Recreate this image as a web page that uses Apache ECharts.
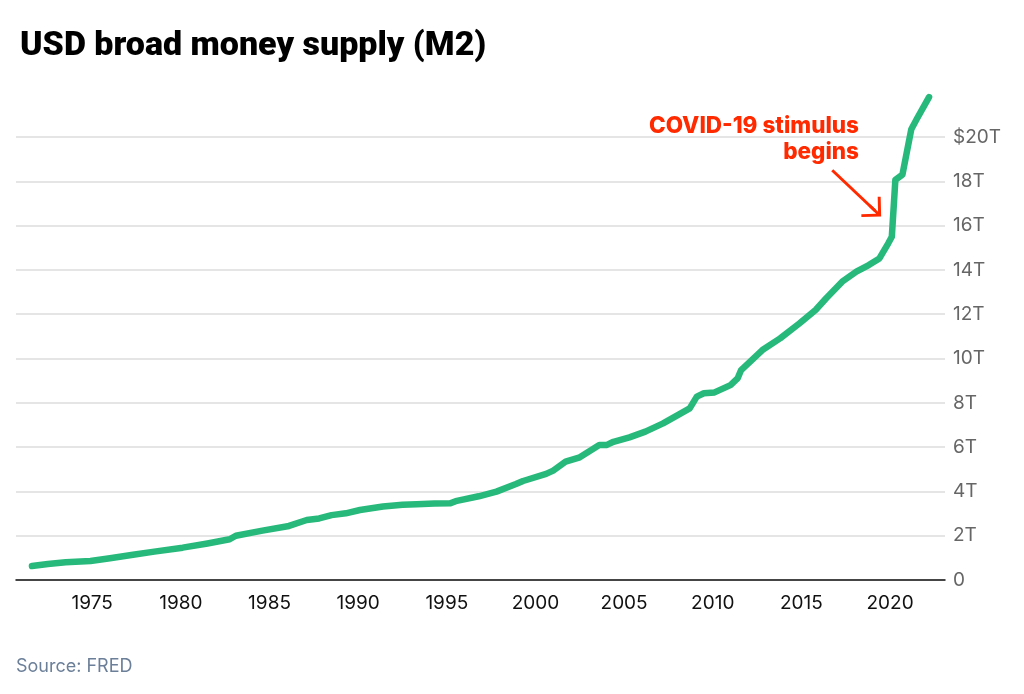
<!DOCTYPE html>
<html>
<head>
<meta charset="utf-8">
<script src="https://cdn.jsdelivr.net/npm/echarts@6/dist/echarts.min.js"></script>
<style>
  html, body { margin: 0; padding: 0; background: #fff; }
  #chart { width: 1024px; height: 694px; }
</style>
</head>
<body>
<div id="chart"></div>
<script>
// M2 readings (trillions of USD)
const years = [
  1971.6, 1972.5, 1973.5, 1974.9, 1976.0, 1977.3, 1978.5, 1980.1, 1981.5, 1982.75,
  1983.1, 1984.6, 1986.1, 1987.1, 1987.8, 1988.5, 1989.3, 1990.1, 1991.4, 1992.5,
  1993.3, 1994.3, 1995.2, 1995.5, 1996.8, 1997.8, 1998.9, 1999.3, 2000.6, 2001.0,
  2001.7, 2002.5, 2003.6, 2004.0, 2004.4, 2005.3, 2006.2, 2007.2, 2008.1, 2008.7,
  2009.1, 2009.5, 2010.1, 2011.0, 2011.4, 2011.6, 2012.8, 2013.8, 2014.9, 2015.8,
  2016.4, 2017.3, 2018.1, 2018.8, 2019.4, 2019.9, 2020.1, 2020.3, 2020.7, 2021.2,
  2021.5, 2022.2
]
const m2 = [
  0.63, 0.72, 0.80, 0.86, 0.98, 1.14, 1.28, 1.46, 1.65, 1.84,
  2.00, 2.23, 2.44, 2.71, 2.78, 2.93, 3.01, 3.16, 3.32, 3.40,
  3.42, 3.45, 3.46, 3.56, 3.78, 3.99, 4.33, 4.47, 4.79, 4.94,
  5.34, 5.54, 6.09, 6.09, 6.24, 6.44, 6.70, 7.07, 7.48, 7.75,
  8.28, 8.43, 8.47, 8.80, 9.10, 9.48, 10.38, 10.91, 11.59, 12.19,
  12.72, 13.47, 13.92, 14.22, 14.52, 15.20, 15.50, 18.06, 18.30, 20.35,
  20.80, 21.80
]
const yearTicks = [1975, 1980, 1985, 1990, 1995, 2000, 2005, 2010, 2015, 2020]
// arrow for the annotation, in data space: [year, trillions]
const arrowFrom = [2016.74, 18.5]
const arrowTo = [2019.17, 16.66]

const font = 'Inter, "Noto Sans", sans-serif'
const green = '#27b97b'
const red = '#ff2a00'
// open arrow head with a short stem so the shaft reaches the tip
const arrowHead = 'path://M10,0 L20,10 L18.5,11.5 L11,4 L11,11.5 L9,11.5 L9,4 L1.5,11.5 L0,10 Z'

const chart = echarts.init(document.getElementById('chart'), null, { renderer: 'canvas' })

chart.setOption({
  animation: false,
  backgroundColor: '#fff',
  title: {
    text: 'USD broad money supply (M2)',
    left: 15,
    top: 24,
    textStyle: { fontFamily: 'Roboto, ' + font, fontSize: 34, fontWeight: 900, color: '#000' }
  },
  grid: { left: 16, right: 79, top: 137, bottom: 114 },
  xAxis: {
    type: 'value',
    min: 1970.7,
    max: 2023.1,
    axisLine: { show: true, lineStyle: { color: '#111', width: 1.5 } },
    axisTick: { show: false },
    splitLine: { show: false },
    axisLabel: {
      customValues: yearTicks,
      color: '#111',
      fontFamily: font,
      fontSize: 19,
      margin: 14,
      formatter: v => String(v)
    }
  },
  yAxis: {
    type: 'value',
    position: 'right',
    min: 0,
    max: 20,
    interval: 2,
    axisLine: { show: false },
    axisTick: { show: false },
    splitLine: { lineStyle: { color: '#dcdcdc', width: 1.5 } },
    axisLabel: {
      color: '#666',
      fontFamily: font,
      fontSize: 19,
      margin: 8,
      formatter: v => (v === 0 ? '0' : v === 20 ? '$20T' : v + 'T')
    }
  },
  series: [{
    type: 'line',
    data: years.map((y, i) => [y, m2[i]]),
    showSymbol: false,
    clip: false,
    lineStyle: { color: green, width: 6.5, cap: 'round', join: 'round' },
    markLine: {
      silent: true,
      symbol: ['none', arrowHead],
      symbolSize: [28, 16],
      label: { show: false },
      lineStyle: { color: red, width: 3, type: 'solid' },
      data: [[{ coord: arrowFrom }, { coord: arrowTo }]]
    }
  }],
  graphic: [
    {
      type: 'text',
      x: 859,
      y: 113,
      style: {
        text: 'COVID-19 stimulus\nbegins',
        align: 'right',
        verticalAlign: 'top',
        fill: red,
        font: '800 22.5px ' + font,
        lineHeight: 26
      }
    },
    {
      type: 'text',
      left: 16,
      top: 658,
      style: { text: 'Source: FRED', fill: '#6b7f99', font: '18px ' + font }
    }
  ]
})
</script>
</body>
</html>
